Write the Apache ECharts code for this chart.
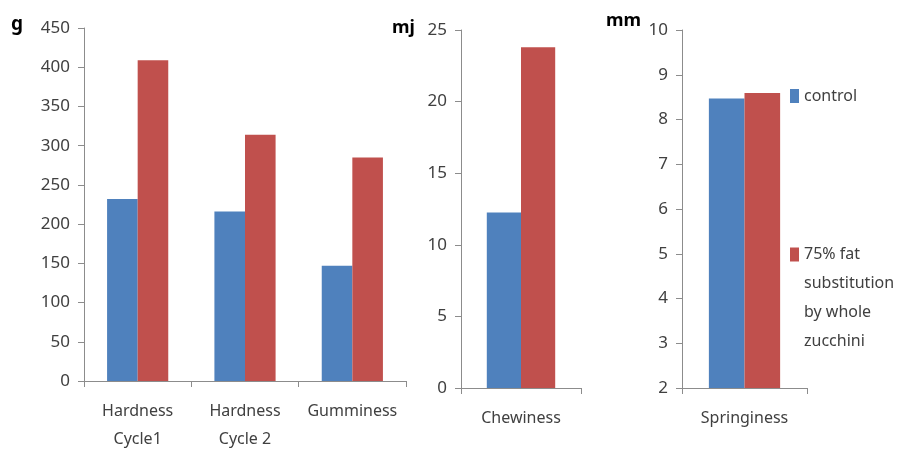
<!DOCTYPE html>
<html>
<head>
<meta charset="utf-8">
<script src="https://cdn.jsdelivr.net/npm/echarts@6/dist/echarts.min.js"></script>
<style>
  html, body { margin: 0; padding: 0; background: #fff; }
  #chart { width: 901px; height: 453px; }
</style>
</head>
<body>
<div id="chart"></div>
<script>
// Texture profile: control vs. 75% fat substitution by whole zucchini
const seriesNames = ['control', '75% fat substitution by whole zucchini'];

// Panel 1: force measures (g)
const forceCategories = ['Hardness\nCycle1', 'Hardness\nCycle 2', 'Gumminess'];
const forceControl = [232, 216, 147];
const forceZucchini = [409, 314, 285];

// Panel 2: energy measure (mj)
const energyCategories = ['Chewiness'];
const energyControl = [12.25];
const energyZucchini = [23.8];

// Panel 3: distance measure (mm)
const distanceCategories = ['Springiness'];
const distanceControl = [8.47];
const distanceZucchini = [8.59];

const units = ['g', 'mj', 'mm'];

const BLUE = '#4F81BD';
const RED = '#C0504D';
const AXIS = '#8c8c8c';
const LABEL = '#404040';
const FONT = '"Noto Sans", sans-serif';

const chart = echarts.init(document.getElementById('chart'), null, { renderer: 'canvas' });

function catAxis(gridIndex, data) {
  return {
    type: 'category', gridIndex, data,
    axisLine: { lineStyle: { color: AXIS, width: 1 } },
    axisTick: { show: true, length: 6, lineStyle: { color: AXIS } },
    axisLabel: { color: LABEL, fontFamily: FONT, fontSize: 16, lineHeight: 28, margin: 16, interval: 0 }
  };
}
function valAxis(gridIndex, min, max, interval) {
  return {
    type: 'value', gridIndex, min, max, interval,
    axisLine: { show: true, lineStyle: { color: AXIS, width: 1 } },
    axisTick: { show: true, length: 6, lineStyle: { color: AXIS } },
    splitLine: { show: false },
    axisLabel: { color: LABEL, fontFamily: FONT, fontSize: 17, margin: 14 }
  };
}
function bar(name, color, axisIndex, data) {
  return {
    type: 'bar', name, data,
    xAxisIndex: axisIndex, yAxisIndex: axisIndex,
    barGap: '0%', barCategoryGap: '43%',
    itemStyle: { color },
    emphasis: { disabled: true }
  };
}

const option = {
  animation: false,
  backgroundColor: '#fff',
  grid: [
    { left: 84, top: 28, width: 322, height: 355 },
    { left: 461, top: 30, width: 120, height: 358 },
    { left: 682, top: 30, width: 125, height: 358 }
  ],
  xAxis: [
    catAxis(0, forceCategories),
    catAxis(1, energyCategories),
    catAxis(2, distanceCategories)
  ],
  yAxis: [
    valAxis(0, 0, 450, 50),
    valAxis(1, 0, 25, 5),
    valAxis(2, 2, 10, 1)
  ],
  legend: [
    {
      data: [seriesNames[0]], orient: 'vertical', left: 790, top: 88, padding: 0,
      icon: 'rect', itemWidth: 9, itemHeight: 14, selectedMode: false,
      textStyle: { color: LABEL, fontFamily: FONT, fontSize: 16, lineHeight: 14 }
    },
    {
      // three leading blank lines keep the first text line level with the swatch
      data: [seriesNames[1]], orient: 'vertical', left: 790, top: 248 - 95, padding: 0,
      icon: 'rect', itemWidth: 9, itemHeight: 14, selectedMode: false,
      formatter: () => '\n\n\n75% fat\nsubstitution\nby whole\nzucchini',
      textStyle: { color: LABEL, fontFamily: FONT, fontSize: 16, lineHeight: 29 }
    }
  ],
  graphic: [
    { type: 'text', left: 11, top: 15, style: { text: units[0], font: 'bold 19px ' + FONT, fill: '#000' } },
    { type: 'text', left: 392, top: 19, style: { text: units[1], font: 'bold 18px ' + FONT, fill: '#000' } },
    { type: 'text', left: 606, top: 12, style: { text: units[2], font: 'bold 18px ' + FONT, fill: '#000' } }
  ],
  series: [
    bar(seriesNames[0], BLUE, 0, forceControl),
    bar(seriesNames[1], RED, 0, forceZucchini),
    bar(seriesNames[0], BLUE, 1, energyControl),
    bar(seriesNames[1], RED, 1, energyZucchini),
    bar(seriesNames[0], BLUE, 2, distanceControl),
    bar(seriesNames[1], RED, 2, distanceZucchini)
  ]
};

chart.setOption(option);
</script>
</body>
</html>
